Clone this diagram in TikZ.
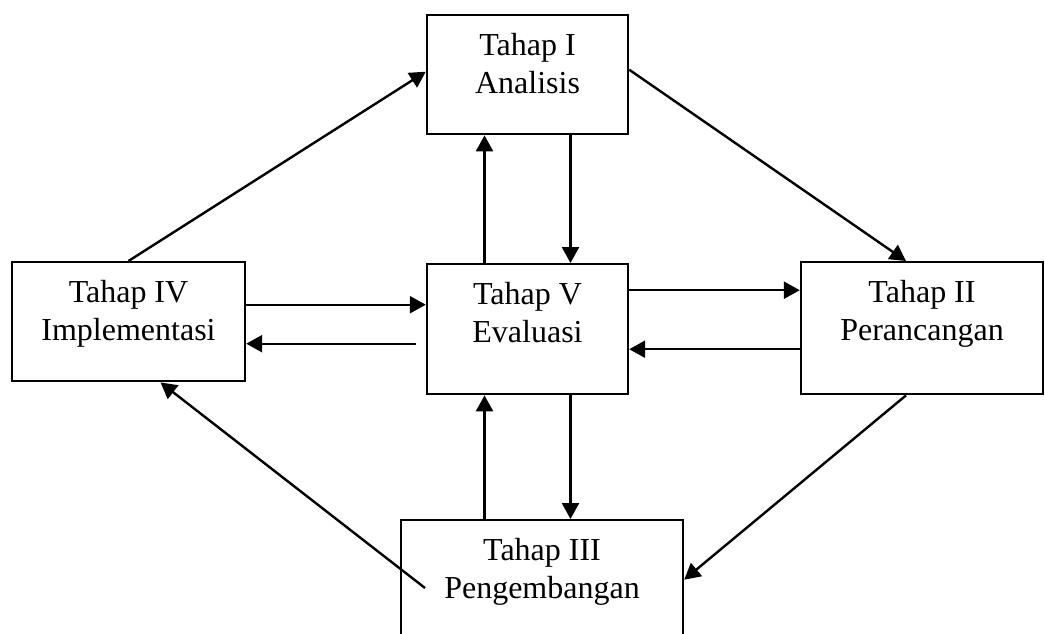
\documentclass[tikz,border=0pt]{standalone}
\usepackage{fontspec}
\setmainfont{Liberation Serif}
\usetikzlibrary{arrows.meta}

\begin{document}
\begin{tikzpicture}[x=1pt, y=-1pt, line width=2.4pt,
					>={Triangle[length=16pt,width=17pt]},
					every node/.style = {font=\fontsize{32}{38}\selectfont}]

\tikzstyle{tahap}=[draw, anchor=north, align=center, inner sep=0pt, text height=78pt]

\useasboundingbox (0,0) rectangle (1045,634);
\clip (0,0) rectangle (1045,634);

\node[tahap, minimum width=201pt, text depth=41pt] (i) at (527.5,14) {Tahap I\\Analisis};
\node[tahap, minimum width=233pt, text depth=41pt] (iv) at (128.5,261) {Tahap IV\\Implementasi};
\node[tahap, minimum width=201pt, text depth=52pt] (v) at (527.5,263) {Tahap V\\Evaluasi};
\node[tahap, minimum width=242pt, text depth=54pt] (ii) at (922,261) {Tahap II\\Perancangan};
\node[tahap, minimum width=282pt, text depth=41pt] (iii) at (542,519) {Tahap III\\Pengembangan};

\draw[->] (iv.north) -- ([yshift=3pt]i.west);
\draw[->] ([yshift=5pt]i.east) -- ([xshift=-16pt]ii.north);
\draw[->] ([xshift=43pt]i.south) -- ([xshift=43pt]v.north);
\draw[->] ([xshift=-43pt]v.north) -- ([xshift=-43pt]i.south);
\draw[->] ([yshift=17pt]iv.east) -- ([yshift=17pt]iv.east -| v.west);
\draw[->] ([yshift=-22pt]iv.east -| v.west) ++(-10,0) -- ([yshift=-22pt]iv.east);
\draw[->] ([yshift=39pt]v.east) -- ([yshift=39pt]v.east -| ii.west);
\draw[->] ([yshift=-21pt]ii.west) -- ([yshift=-21pt]ii.west -| v.east);
\draw[->] ([xshift=-43pt]v.south |- iii.north) -- ([xshift=-43pt]v.south);
\draw[->] ([xshift=43pt]v.south) -- ([xshift=43pt]v.south |- iii.north);
\draw[->] ([xshift=-16pt]ii.south) -- (iii.east);

% loose end inside Tahap III
\coordinate (s) at (425,588);
\draw[->] (s) -- ([xshift=32pt]iv.south);
\end{tikzpicture}
\end{document}
